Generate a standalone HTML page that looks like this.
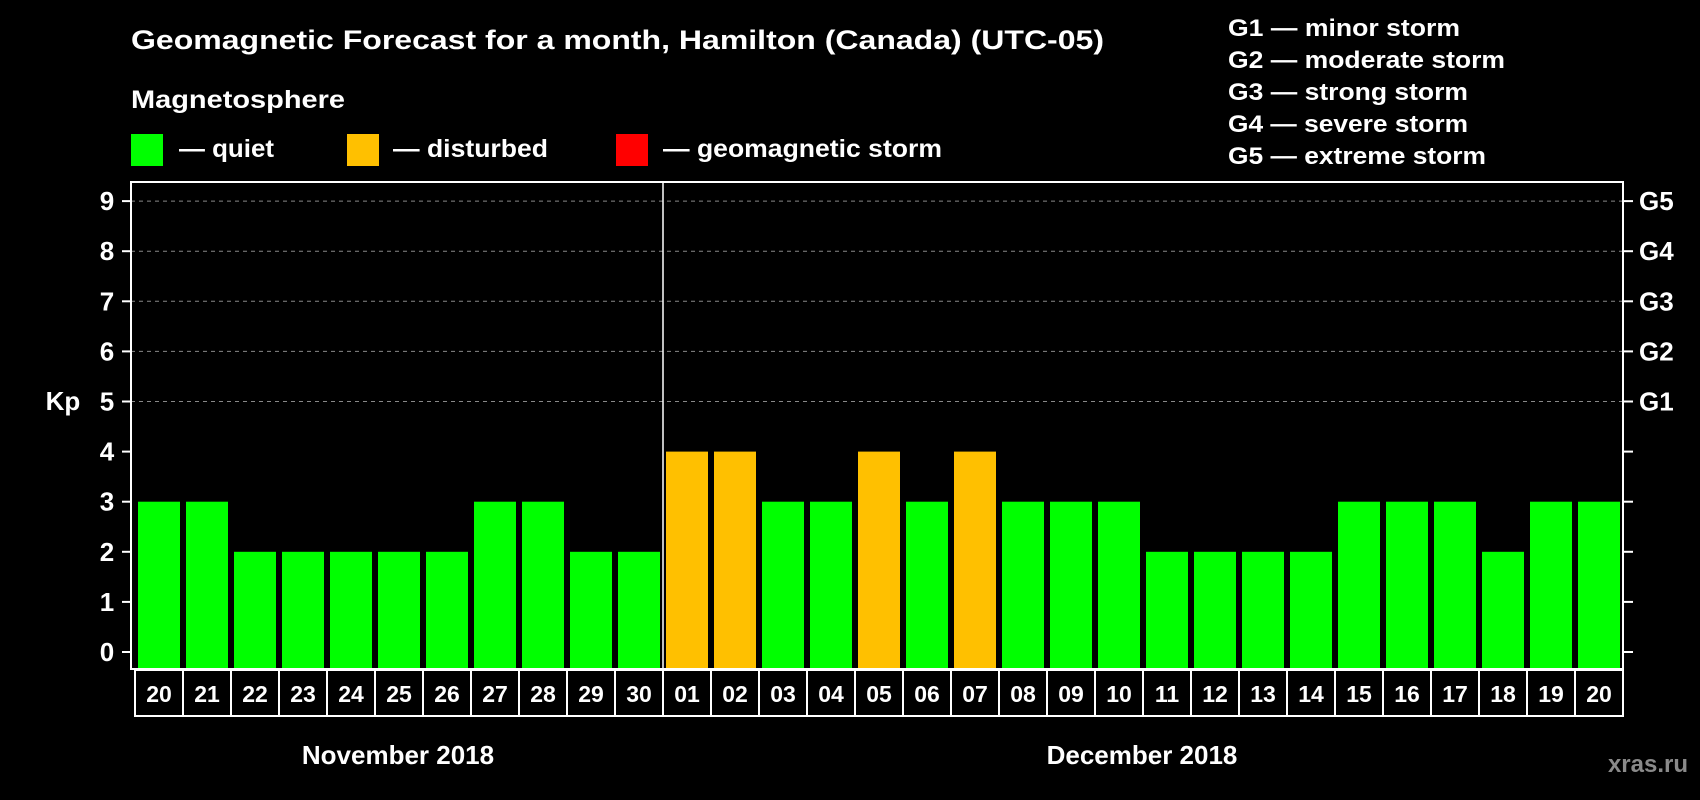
<!DOCTYPE html>
<html><head><meta charset="utf-8"><style>
html,body{margin:0;padding:0;background:#000;}
svg{display:block;font-family:"Liberation Sans",sans-serif;font-weight:bold;}
</style></head><body>
<svg id="chart" width="1700" height="800" viewBox="0 0 1700 800">
<rect x="0" y="0" width="1700" height="800" fill="#000"/>
<text x="131" y="49" font-size="27" fill="#fff" textLength="973" lengthAdjust="spacingAndGlyphs">Geomagnetic Forecast for a month, Hamilton (Canada) (UTC-05)</text>
<text x="131" y="108" font-size="25" fill="#fff" textLength="214" lengthAdjust="spacingAndGlyphs">Magnetosphere</text>
<g>
<rect x="131" y="134" width="32" height="32" fill="#00ff00"/>
<text x="179" y="157" font-size="25" fill="#fff" textLength="95" lengthAdjust="spacingAndGlyphs">— quiet</text></g>
<g>
<rect x="347" y="134" width="32" height="32" fill="#ffc000"/>
<text x="393" y="157" font-size="25" fill="#fff" textLength="155" lengthAdjust="spacingAndGlyphs">— disturbed</text></g>
<g>
<rect x="616" y="134" width="32" height="32" fill="#ff0000"/>
<text x="663" y="157" font-size="25" fill="#fff" textLength="279" lengthAdjust="spacingAndGlyphs">— geomagnetic storm</text></g>
<g font-size="24" fill="#fff">
<text x="1228" y="36" textLength="232" lengthAdjust="spacingAndGlyphs">G1 — minor storm</text>
<text x="1228" y="68" textLength="277" lengthAdjust="spacingAndGlyphs">G2 — moderate storm</text>
<text x="1228" y="100" textLength="240" lengthAdjust="spacingAndGlyphs">G3 — strong storm</text>
<text x="1228" y="132" textLength="240" lengthAdjust="spacingAndGlyphs">G4 — severe storm</text>
<text x="1228" y="164" textLength="258" lengthAdjust="spacingAndGlyphs">G5 — extreme storm</text>
</g>
<g id="grid"></g>
<g id="bars"></g>
<g id="axes"></g>
<text x="63" y="410" font-size="26" fill="#fff" text-anchor="middle">Kp</text>
<text x="398" y="764" font-size="26" fill="#fff" text-anchor="middle">November 2018</text>
<text x="1142" y="764" font-size="26" fill="#fff" text-anchor="middle">December 2018</text>
<text x="1688" y="772" font-size="24" fill="#8a8a8a" text-anchor="end">xras.ru</text>
</svg>
<script>
const days = ["20","21","22","23","24","25","26","27","28","29","30","01","02","03","04","05","06","07","08","09","10","11","12","13","14","15","16","17","18","19","20"];
const kpValues = [3,3,2,2,2,2,2,3,3,2,2,4,4,3,3,4,3,4,3,3,3,2,2,2,2,3,3,3,2,3,3];
const yTicks = [0,1,2,3,4,5,6,7,8,9];
const gLabels = ["G1","G2","G3","G4","G5"];
const gLevels = [5,6,7,8,9];

const NS="http://www.w3.org/2000/svg";
const L=131,R=1623,T=182,B=669, pitch=48, bw=42, x0=138;
const y=v=>652-v*50.1;
const xb=i=>x0+i*pitch;
function mk(tag,attrs,parent){const e=document.createElementNS(NS,tag);for(const k in attrs)e.setAttribute(k,attrs[k]);parent.appendChild(e);return e;}
const grid=document.getElementById('grid'),bars=document.getElementById('bars'),axes=document.getElementById('axes');
gLevels.forEach(v=>{const l=mk('line',{x1:L,x2:R,y1:y(v),y2:y(v),stroke:'#888','stroke-width':1,'stroke-dasharray':'4,4'},grid);

});
kpValues.forEach((v,i)=>{const c=v>=5?'#ff0000':(v>=4?'#ffc000':'#00ff00');
const r=mk('rect',{x:xb(i),y:y(v),width:bw,height:B-y(v),fill:c},bars);

});
mk('rect',{x:L,y:T,width:R-L,height:B-T,fill:'none',stroke:'#fff','stroke-width':2},axes);
const sep=mk('line',{x1:xb(11)-3,x2:xb(11)-3,y1:T,y2:B,stroke:'#fff','stroke-width':1.5},axes);


yTicks.forEach(v=>{
mk('line',{x1:122,x2:L,y1:y(v),y2:y(v),stroke:'#fff','stroke-width':2},axes);
mk('line',{x1:R,x2:1633,y1:y(v),y2:y(v),stroke:'#fff','stroke-width':2},axes);
const t=mk('text',{x:107,y:y(v)+9,'font-size':26,fill:'#fff','text-anchor':'middle'},axes);t.textContent=v;

});
gLevels.forEach((v,i)=>{const t=mk('text',{x:1639,y:y(v)+9,'font-size':26,fill:'#fff'},axes);t.textContent=gLabels[i];

});
mk('rect',{x:135,y:670,width:1488,height:46,fill:'none',stroke:'#fff','stroke-width':2},axes);
days.forEach((d,i)=>{
if(i>0)mk('line',{x1:135+i*pitch,x2:135+i*pitch,y1:670,y2:716,stroke:'#fff','stroke-width':2},axes);
const t=mk('text',{x:135+i*pitch+24,y:702,'font-size':23,fill:'#fff','text-anchor':'middle'},axes);t.textContent=d;

});
</script>
</body></html>
